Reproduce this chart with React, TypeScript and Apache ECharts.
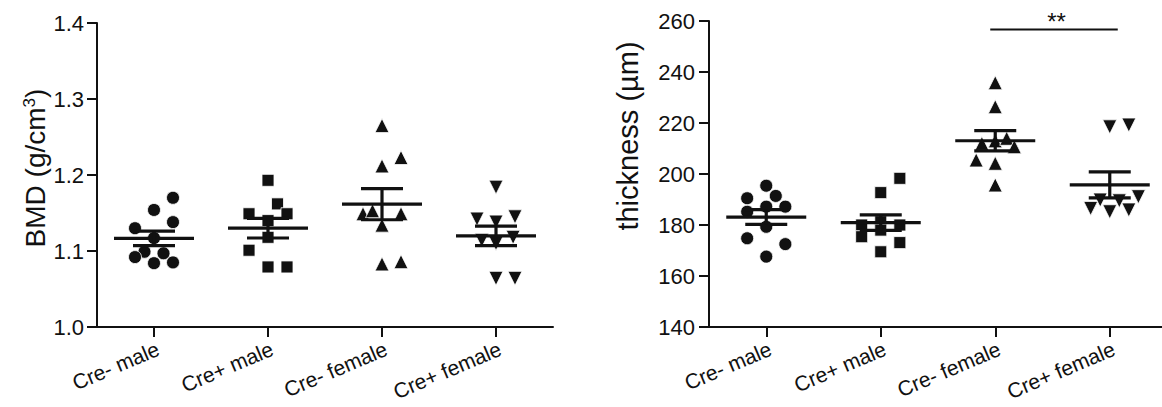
import React, { useEffect, useRef } from "react";
import * as echarts from "echarts";

// ---------- data ----------
const categories = ["Cre- male", "Cre+ male", "Cre- female", "Cre+ female"];

// BMD (g/cm3)
const bmdCreMinusMale = [1.170, 1.154, 1.138, 1.130, 1.117, 1.099, 1.097, 1.092, 1.084, 1.085];
const bmdCrePlusMale = [1.193, 1.162, 1.149, 1.149, 1.140, 1.118, 1.101, 1.079, 1.079];
const bmdCreMinusFemale = [1.265, 1.223, 1.212, 1.149, 1.153, 1.149, 1.134, 1.083, 1.086];
const bmdCrePlusFemale = [1.184, 1.142, 1.138, 1.145, 1.114, 1.110, 1.118, 1.064, 1.064];

// horizontal jitter slots of each point (scatter-dot layout)
const bmdJitterCreMinusMale = [1, 0, 1, -1, 0, -0.5, 0.5, -1, 0, 1];
const bmdJitterCrePlusMale = [0, 0.5, -1, 1, 0, 0, -1, 0, 1];
const bmdJitterCreMinusFemale = [0, 1, 0, -1, -0.5, 1, 0, 0, 1];
const bmdJitterCrePlusFemale = [0, -1, 0, 1, -0.75, 0, 0.9, 0, 1];

// thickness (µm)
const thkCreMinusMale = [195.4, 190.5, 191.4, 187.2, 187.2, 185.2, 179.3, 174.8, 172.5, 167.6];
const thkCrePlusMale = [198.3, 192.7, 180.0, 181.3, 180.0, 175.4, 173.1, 169.5, 178.0];
const thkCreMinusFemale = [235.8, 226.4, 213.0, 214.0, 210.7, 212.0, 205.5, 204.2, 195.7];
const thkCrePlusFemale = [218.5, 219.2, 191.1, 189.8, 189.5, 186.5, 185.2, 185.9];

const thkJitterCreMinusMale = [0, -1, 0.5, 0, 1, -1, 0, -1, 1, 0];
const thkJitterCrePlusMale = [1, 0, -1, 0, 1, -1, 1, 0, 0];
const thkJitterCreMinusFemale = [0, 0, 0, 0.6, 1, -0.7, -1, 0, 0];
const thkJitterCrePlusFemale = [0, 1, 1.5, -0.5, 0.5, -1, 0, 1];

const bmdTicks = { min: 1.0, max: 1.4, interval: 0.1 };
const thkTicks = { min: 140, max: 260, interval: 20 };

const bmdTitle = "{a|BMD (g/cm}{b|3}{a|)}";
const thkTitle = "thickness (µm)";

// significance bracket between Cre- female and Cre+ female
const sigFrom = 2;
const sigTo = 3;
const sigY = 256.7;
const sigLabel = "**";

// ---------- helpers ----------
const JITTER_STEP = 1 / 6;
const FONT = "'Liberation Sans', Arial, Helvetica, sans-serif";
const INK = "#111";

const mean = (a: number[]) => a.reduce((s, v) => s + v, 0) / a.length;
const sem = (a: number[]) => {
  const m = mean(a);
  const sd = Math.sqrt(a.reduce((s, v) => s + (v - m) * (v - m), 0) / (a.length - 1));
  return sd / Math.sqrt(a.length);
};

const symbols = [
  { symbol: "circle", rotate: 0, size: 13 },
  { symbol: "rect", rotate: 0, size: 12 },
  { symbol: "triangle", rotate: 0, size: 14 },
  { symbol: "triangle", rotate: 180, size: 14 },
];

function buildPanel(gridIndex: number, groups: number[][], jitters: number[][]) {
  const series: any[] = [];
  groups.forEach((vals, gi) => {
    const sym = symbols[gi];
    series.push({
      type: "scatter",
      xAxisIndex: gridIndex * 2 + 1,
      yAxisIndex: gridIndex,
      symbol: sym.symbol,
      symbolRotate: sym.rotate,
      symbolSize: sym.size,
      itemStyle: { color: INK, borderColor: "#fff", borderWidth: 0.8, opacity: 1 },
      data: vals.map((v, i) => [gi + jitters[gi][i] * JITTER_STEP, v]),
      z: 2,
    });
  });
  series.push({
    type: "custom",
    xAxisIndex: gridIndex * 2 + 1,
    yAxisIndex: gridIndex,
    z: 5,
    data: groups.map((vals, gi) => [gi, mean(vals), sem(vals)]),
    renderItem: (params: any, api: any) => {
      const i = api.value(0);
      const m = api.value(1);
      const s = api.value(2);
      const c = api.coord([i, m]);
      const up = api.coord([i, m + s]);
      const lo = api.coord([i, m - s]);
      const st = { stroke: INK, lineWidth: 3.2 };
      return {
        type: "group",
        children: [
          { type: "line", shape: { x1: c[0] - 40, y1: c[1], x2: c[0] + 40, y2: c[1] }, style: st },
          { type: "line", shape: { x1: c[0] - 21, y1: up[1], x2: c[0] + 21, y2: up[1] }, style: st },
          { type: "line", shape: { x1: c[0] - 21, y1: lo[1], x2: c[0] + 21, y2: lo[1] }, style: st },
          { type: "line", shape: { x1: c[0], y1: up[1], x2: c[0], y2: lo[1] }, style: st },
        ],
      };
    },
  });
  return series;
}

const axisLineStyle = { show: true, onZero: false, lineStyle: { color: INK, width: 2 } };
const tickStyle = { show: true, length: 10, lineStyle: { color: INK, width: 2 } };

export default function App() {
  const ref = useRef<HTMLDivElement>(null);
  useEffect(() => {
    if (!ref.current) return;
    const chart = echarts.init(ref.current, undefined, { renderer: "svg" });

    const catAxis = (gridIndex: number) => ({
      type: "category",
      gridIndex,
      data: categories,
      boundaryGap: true,
      axisLine: axisLineStyle,
      axisTick: { ...tickStyle, alignWithLabel: true },
      axisLabel: {
        rotate: 23,
        margin: 11,
        fontSize: 21,
        color: INK,
        fontFamily: FONT,
        interval: 0,
        align: "right",
        verticalAlign: "top",
      },
      splitLine: { show: false },
    });
    const valX = (gridIndex: number) => ({
      type: "value",
      gridIndex,
      min: -0.5,
      max: 3.5,
      show: false,
      splitLine: { show: false },
    });

    const series = [
      ...buildPanel(
        0,
        [bmdCreMinusMale, bmdCrePlusMale, bmdCreMinusFemale, bmdCrePlusFemale],
        [bmdJitterCreMinusMale, bmdJitterCrePlusMale, bmdJitterCreMinusFemale, bmdJitterCrePlusFemale]
      ),
      ...buildPanel(
        1,
        [thkCreMinusMale, thkCrePlusMale, thkCreMinusFemale, thkCrePlusFemale],
        [thkJitterCreMinusMale, thkJitterCrePlusMale, thkJitterCreMinusFemale, thkJitterCrePlusFemale]
      ),
      {
        type: "custom",
        xAxisIndex: 3,
        yAxisIndex: 1,
        z: 6,
        data: [[sigFrom, sigTo, sigY]],
        renderItem: (params: any, api: any) => {
          const a = api.coord([api.value(0), api.value(2)]);
          const b = api.coord([api.value(1), api.value(2)]);
          return {
            type: "group",
            children: [
              {
                type: "line",
                shape: { x1: a[0] - 5, y1: a[1], x2: b[0] + 8, y2: b[1] },
                style: { stroke: INK, lineWidth: 2 },
              },
              {
                type: "text",
                x: (a[0] + b[0]) / 2 + 4,
                y: a[1] + 4,
                style: {
                  text: sigLabel,
                  fontSize: 24,
                  fontFamily: FONT,
                  fill: INK,
                  align: "center",
                  verticalAlign: "bottom",
                },
              },
            ],
          };
        },
      },
    ];

    chart.setOption({
      animation: false,
      backgroundColor: "#fff",
      grid: [
        { left: 97, top: 23, width: 456, height: 304, outerBoundsMode: "none", containLabel: false },
        { left: 709, top: 21, width: 458, height: 306, outerBoundsMode: "none", containLabel: false },
      ],
      xAxis: [catAxis(0), valX(0), catAxis(1), valX(1)],
      yAxis: [
        {
          type: "value",
          gridIndex: 0,
          ...bmdTicks,
          axisLine: axisLineStyle,
          axisTick: tickStyle,
          splitLine: { show: false },
          axisLabel: {
            margin: 13,
            fontSize: 22,
            color: INK,
            fontFamily: FONT,
            formatter: (v: number) => v.toFixed(1),
          },
        },
        {
          type: "value",
          gridIndex: 1,
          ...thkTicks,
          axisLine: axisLineStyle,
          axisTick: tickStyle,
          splitLine: { show: false },
          axisLabel: { margin: 14, fontSize: 22, color: INK, fontFamily: FONT },
        },
      ],
      graphic: [
        {
          type: "text",
          x: 35,
          y: 168,
          rotation: Math.PI / 2,
          style: {
            text: bmdTitle,
            align: "center",
            verticalAlign: "middle",
            rich: {
              a: { fontSize: 28, fontFamily: FONT, fill: INK },
              b: { fontSize: 17, fontFamily: FONT, fill: INK, verticalAlign: "top" },
            },
          },
        },
        {
          type: "text",
          x: 628,
          y: 136,
          rotation: Math.PI / 2,
          style: {
            text: thkTitle,
            fontSize: 29,
            fontFamily: FONT,
            fill: INK,
            align: "center",
            verticalAlign: "middle",
          },
        },
      ],
      series,
    });
    return () => chart.dispose();
  }, []);
  return (
    <div
      ref={ref}
      style={{ position: "fixed", left: 0, top: 0, width: 1162, height: 407, background: "#fff" }}
    />
  );
}
